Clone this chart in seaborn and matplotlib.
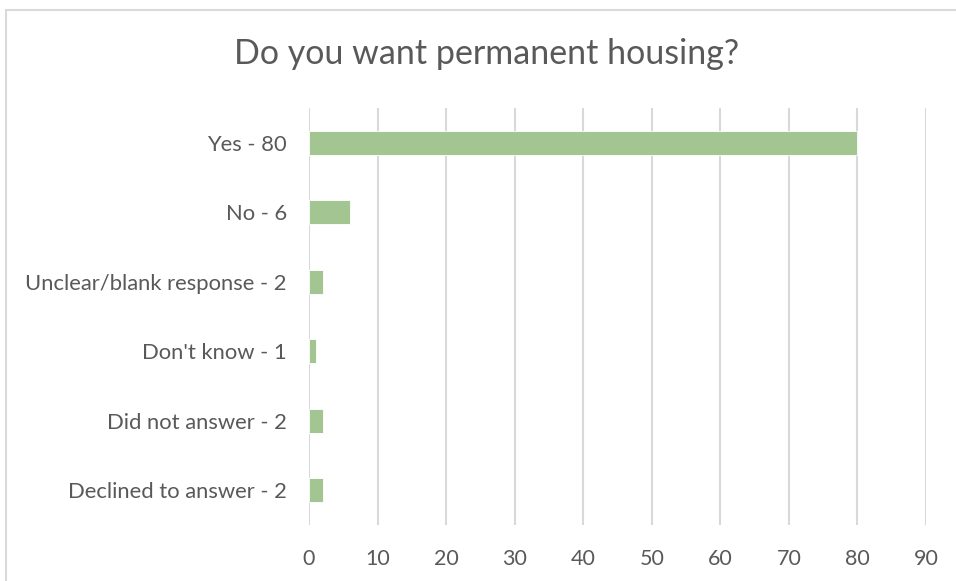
import matplotlib
matplotlib.use("Agg")
import matplotlib.pyplot as plt
import matplotlib.patches as mpatches
import seaborn as sns
import pandas as pd

categories = [
    "Yes - 80",
    "No - 6",
    "Unclear/blank response - 2",
    "Don't know - 1",
    "Did not answer - 2",
    "Declined to answer - 2",
]
counts = [80, 6, 2, 1, 2, 2]
x_ticks = [0, 10, 20, 30, 40, 50, 60, 70, 80, 90]

sns.set_theme(style="white")
plt.rcParams["font.family"] = ["Lato", "DejaVu Sans"]

df = pd.DataFrame({"response": categories, "count": counts})

W, H = 956, 581
fig = plt.figure(figsize=(W / 100, H / 100), dpi=100)
ax = fig.add_axes([309 / W, 1 - 525 / H, 617 / W, 417 / H])

sns.barplot(data=df, x="count", y="response", order=categories,
            color="#A2C591", saturation=1, width=0.34, ax=ax,
            edgecolor="white", linewidth=0.6)

ax.set_xlim(0, 90)
ax.set_ylim(5.5, -0.5)
ax.set_xticks(x_ticks)
ax.set_xlabel("")
ax.set_ylabel("")
ax.grid(axis="x", color="#D9D9D9", linewidth=1.5)
ax.set_axisbelow(True)
for s in ax.spines.values():
    s.set_visible(False)
ax.tick_params(axis="x", length=0, pad=17, labelsize=15.5, labelcolor="#595959")
ax.tick_params(axis="y", length=0, pad=16, labelsize=15.8, labelcolor="#595959")

fig.text(487 / W, 1 - 54 / H, "Do you want permanent housing?",
         ha="center", va="center", fontsize=24.5, color="#595959")

border = mpatches.Rectangle((6 / W, -0.05), 1.1, 1 - 10 / H + 0.05,
                            transform=fig.transFigure, fill=False,
                            edgecolor="#D9D9D9", linewidth=1.5)
fig.patches.append(border)

fig.savefig("out.png", dpi=100, facecolor="white")
